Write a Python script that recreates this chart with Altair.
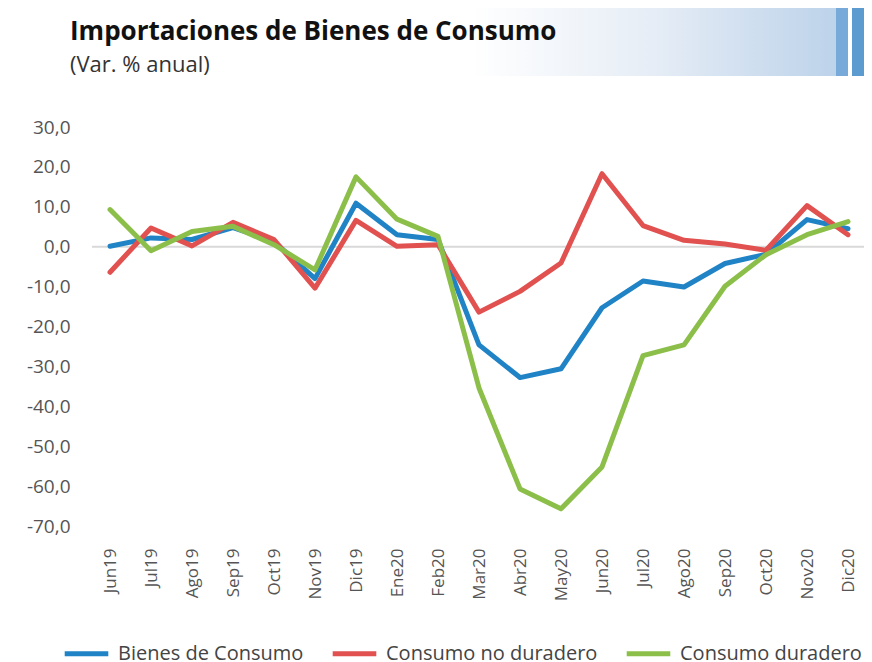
import altair as alt
import pandas as pd

months = ["Jun19", "Jul19", "Ago19", "Sep19", "Oct19", "Nov19", "Dic19", "Ene20",
          "Feb20", "Mar20", "Abr20", "May20", "Jun20", "Jul20", "Ago20", "Sep20",
          "Oct20", "Nov20", "Dic20"]
series_names = ["Bienes de Consumo", "Consumo no duradero", "Consumo duradero"]
bienes = [0.1, 2.2, 1.8, 4.8, 1.3, -8.0, 10.9, 3.0, 1.8, -24.6, -32.8, -30.6,
          -15.3, -8.6, -10.1, -4.2, -1.9, 6.8, 4.5]
no_duradero = [-6.4, 4.7, 0.2, 6.1, 1.8, -10.4, 6.6, 0.1, 0.5, -16.4, -11.2, -4.1,
               18.3, 5.3, 1.6, 0.7, -0.9, 10.3, 3.0]
duradero = [9.3, -1.0, 3.8, 5.1, 0.5, -5.8, 17.5, 6.9, 2.6, -35.4, -60.7, -65.7,
            -55.2, -27.3, -24.6, -9.9, -2.0, 3.0, 6.3]
colors = ["#1f83c6", "#e0514f", "#8cbf4a"]
y_ticks = [30, 20, 10, 0, -10, -20, -30, -40, -50, -60, -70]
title_text = "Importaciones de Bienes de Consumo"
subtitle_text = "(Var. % anual)"

rows = []
for name, vals in zip(series_names, [bienes, no_duradero, duradero]):
    for m, v in zip(months, vals):
        rows.append({"mes": m, "serie": name, "valor": v})
df = pd.DataFrame(rows)

W, H = 764, 399
FONT = "Open Sans"

y_scale = alt.Scale(domain=[-70, 30], nice=False, zero=False)
y_axis = alt.Axis(title=None, values=y_ticks, labelExpr="datum.value + ',0'",
                  labelFontSize=19, labelColor="#555555", labelFont=FONT,
                  ticks=False, domain=False, grid=False, labelPadding=22,
                  labelOverlap=False)

x_enc = alt.X("mes:O", sort=months,
              scale=alt.Scale(type="point", range=[18, 756], padding=0),
              axis=alt.Axis(title=None, labelAngle=270, labelAlign="right",
                            labelBaseline="middle", labelFontSize=17,
                            labelColor="#555555", labelFont=FONT, ticks=False,
                            domain=False, labelPadding=22, grid=False,
                            labelOverlap=False))
y_enc = alt.Y("valor:Q", scale=y_scale, axis=y_axis)
color_enc = alt.Color("serie:N",
                      scale=alt.Scale(domain=series_names, range=colors),
                      legend=alt.Legend(title=None, orient="none", direction="horizontal",
                                        legendX=-30, legendY=502,
                                        symbolType="stroke", symbolSize=1900,
                                        symbolStrokeWidth=5, labelFontSize=20,
                                        labelFont=FONT, labelColor="#444444",
                                        labelOffset=7, columnPadding=18,
                                        labelLimit=400))

base = alt.Chart(df)
one = alt.Data(values=[{"k": 1}])

zero_rule = alt.Chart(alt.Data(values=[{"valor": 0}])).mark_rule(
    color="#d9d9d9", strokeWidth=2, clip=False
).encode(y=alt.Y("valor:Q", scale=y_scale, axis=y_axis),
         x=alt.value(0), x2=alt.value(780))

header = alt.Chart(one).mark_rect(
    clip=False,
    color=alt.LinearGradient(
        gradient="linear", x1=0, x2=1, y1=0, y2=0,
        stops=[alt.GradientStop(color="#ffffff", offset=0),
               alt.GradientStop(color="#e6edf6", offset=0.5),
               alt.GradientStop(color="#bdd3ea", offset=1)])
).encode(x=alt.value(378), x2=alt.value(744), y=alt.value(-121), y2=alt.value(-51))
bar1 = alt.Chart(one).mark_rect(clip=False, color="#77aad8").encode(
    x=alt.value(744), x2=alt.value(756), y=alt.value(-121), y2=alt.value(-51))
bar2 = alt.Chart(one).mark_rect(clip=False, color="#5b9bd0").encode(
    x=alt.value(760), x2=alt.value(772), y=alt.value(-121), y2=alt.value(-51))

title_mark = alt.Chart(one).mark_text(
    align="left", baseline="alphabetic", font=FONT, fontSize=26, fontWeight="bold",
    color="#111111", clip=False
).encode(x=alt.value(-22), y=alt.value(-87), text=alt.value(title_text))
subtitle_mark = alt.Chart(one).mark_text(
    align="left", baseline="alphabetic", font=FONT, fontSize=22,
    color="#333333", clip=False
).encode(x=alt.value(-22), y=alt.value(-55), text=alt.value(subtitle_text))

lines = []
for name in series_names:
    lines.append(
        base.transform_filter(alt.datum.serie == name).mark_line(
            strokeWidth=5, strokeJoin="round", strokeCap="round"
        ).encode(x=x_enc, y=y_enc, color=color_enc)
    )

chart = alt.layer(header, bar1, bar2, title_mark, subtitle_mark, zero_rule, *lines).properties(
    width=W, height=H,
    background="white",
    autosize=alt.AutoSizeParams(type="none"),
    padding={"left": 84, "top": 119, "right": 8, "bottom": 136},
).configure_view(stroke=None).configure_axis(labelOverlap=False)

chart.save("out.html", embed_options={"renderer": "svg", "actions": False})
